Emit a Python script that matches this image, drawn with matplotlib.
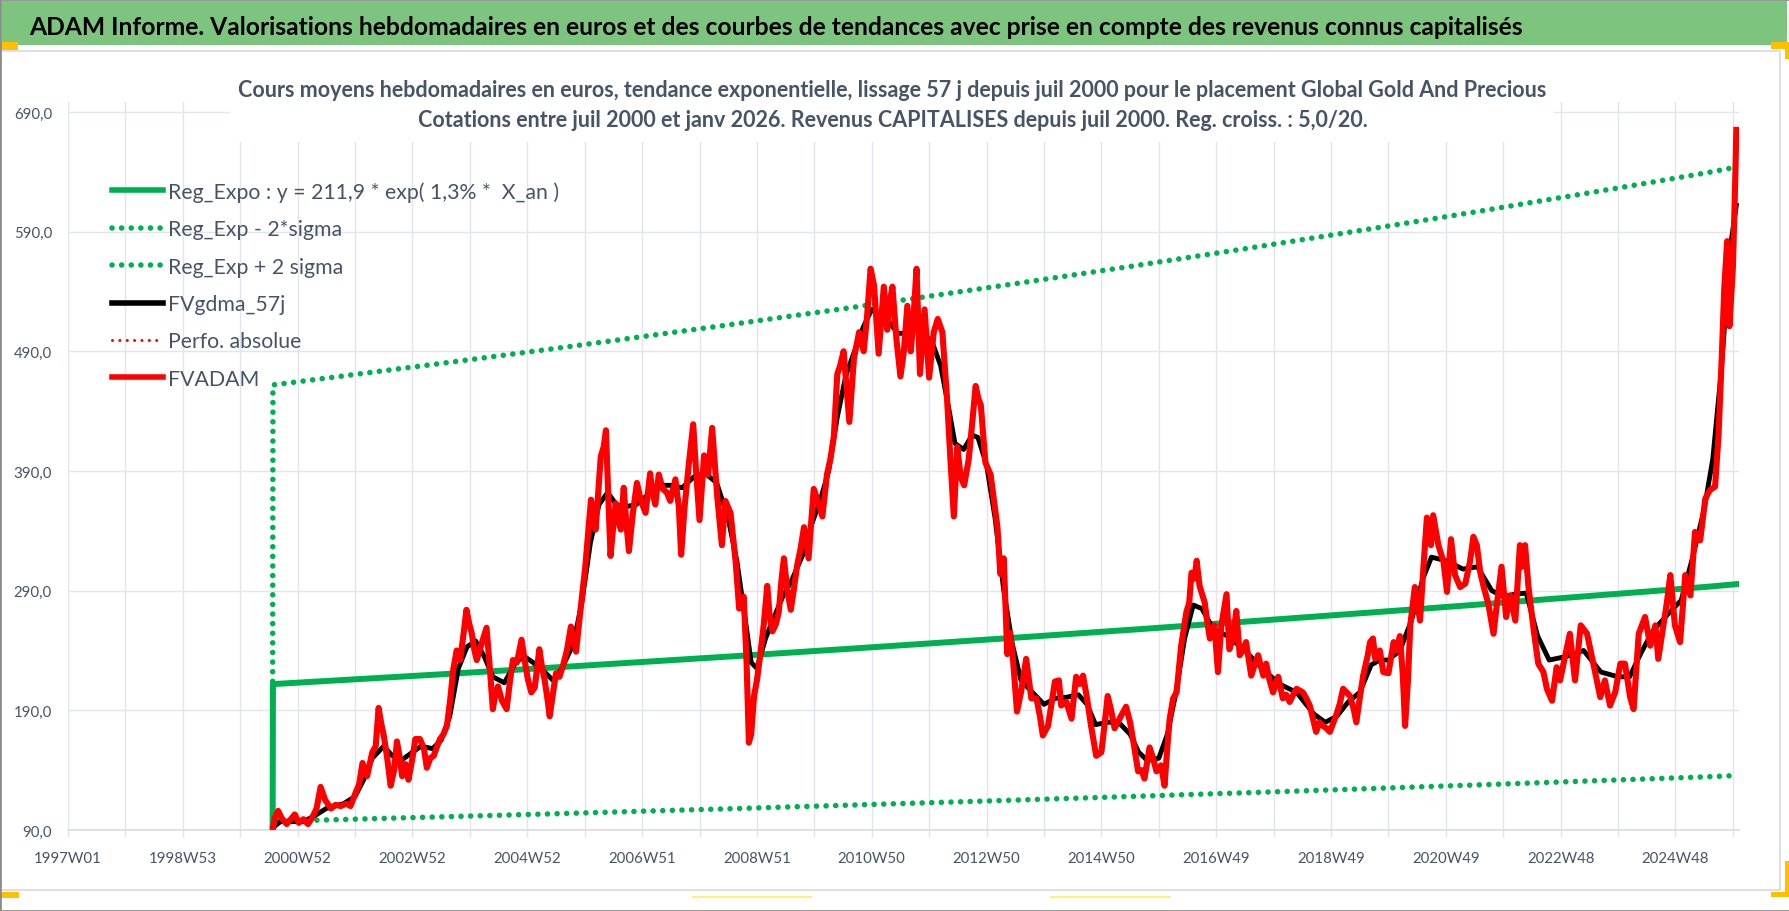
import matplotlib
matplotlib.use('Agg')
import matplotlib.pyplot as plt
from matplotlib.lines import Line2D
from matplotlib.patches import Rectangle

# police : étroite si dispo, sinon Lato
plt.rcParams['font.family'] = ['Liberation Sans Narrow', 'Lato', 'DejaVu Sans']

TITLE = ("ADAM Informe. Valorisations hebdomadaires en euros et des courbes de tendances "
         "avec prise en compte des revenus connus capitalisés")
SUB1 = ("Cours moyens hebdomadaires en euros, tendance exponentielle, lissage 57 j depuis juil 2000 "
        "pour le placement Global Gold And Precious")
SUB2 = ("Cotations entre juil 2000 et janv 2026. Revenus CAPITALISES depuis juil 2000. "
        "Reg. croiss. : 5,0/20.")

labels = ['Reg_Expo : y = 211,9 * exp( 1,3% *  X_an )', 'Reg_Exp - 2*sigma', 'Reg_Exp + 2 sigma',
          'FVgdma_57j', 'Perfo. absolue', 'FVADAM']

year_ticks = list(range(1997, 2027))
week_labels = ['1997W01', '1998W53', '2000W52', '2002W52', '2004W52', '2006W51', '2008W51',
               '2010W50', '2012W50', '2014W50', '2016W49', '2018W49', '2020W49', '2022W48', '2024W48']
y_ticks = [90, 190, 290, 390, 490, 590, 690]

# tendances (valeur 0 avant le début de la régression)
trend_t = [2000.56, 2000.57, 2001.57, 2002.57, 2003.57, 2004.57, 2005.57, 2006.57, 2007.57, 2008.57,
           2009.57, 2010.57, 2011.57, 2012.57, 2013.57, 2014.57, 2015.57, 2016.57, 2017.57, 2018.57,
           2019.57, 2020.57, 2021.57, 2022.57, 2023.57, 2024.57, 2025.57, 2026.06]
reg_v = [0, 211.9, 214.7, 217.5, 220.3, 223.2, 226.1, 229.1, 232.1, 235.1, 238.2, 241.3, 244.5, 247.7,
         250.9, 254.2, 257.5, 260.9, 264.3, 267.8, 271.3, 274.8, 278.4, 282.1, 285.8, 289.5, 293.3, 295.4]
up_v = [0, 461.9, 468.0, 474.2, 480.3, 486.6, 492.9, 499.4, 506.0, 512.5, 519.3, 526.0, 533.0, 540.0,
        547.0, 554.2, 561.4, 568.8, 576.2, 583.8, 591.4, 599.1, 606.9, 615.0, 623.0, 631.1, 639.4, 644.0]
low_v = [0, 97.2, 98.5, 99.8, 101.1, 102.4, 103.7, 105.1, 106.5, 107.8, 109.3, 110.7, 112.2, 113.6,
         115.1, 116.6, 118.1, 119.7, 121.2, 122.8, 124.4, 126.1, 127.7, 129.4, 131.1, 132.8, 134.5, 135.5]

# moyenne mobile 57 j
black_t = [2000.57, 2000.7, 2000.9, 2001.1, 2001.3, 2001.5, 2001.8, 2002.0, 2002.15, 2002.3, 2002.5,
           2002.65, 2002.8, 2003.0, 2003.15, 2003.35, 2003.5, 2003.65, 2003.8, 2003.95, 2004.1, 2004.25,
           2004.4, 2004.6, 2004.8, 2004.95, 2005.1, 2005.3, 2005.45, 2005.6, 2005.8, 2005.95, 2006.1,
           2006.25, 2006.4, 2006.55, 2006.7, 2006.9, 2007.1, 2007.3, 2007.5, 2007.7, 2007.9, 2008.1,
           2008.3, 2008.5, 2008.65, 2008.8, 2008.9, 2009.0, 2009.15, 2009.3, 2009.45, 2009.6, 2009.8,
           2009.95, 2010.1, 2010.25, 2010.4, 2010.55, 2010.7, 2010.85, 2011.0, 2011.15, 2011.3, 2011.45,
           2011.6, 2011.75, 2011.9, 2012.05, 2012.2, 2012.35, 2012.45, 2012.6, 2012.75, 2012.85, 2013.0,
           2013.15, 2013.3, 2013.45, 2013.6, 2013.8, 2014.0, 2014.2, 2014.4, 2014.6, 2014.75, 2014.9,
           2015.1, 2015.3, 2015.5, 2015.65, 2015.8, 2016.0, 2016.15, 2016.3, 2016.45, 2016.6, 2016.75,
           2016.95, 2017.2, 2017.5, 2017.8, 2018.1, 2018.4, 2018.7, 2018.9, 2019.1, 2019.3, 2019.5,
           2019.7, 2019.85, 2020.0, 2020.2, 2020.4, 2020.6, 2020.75, 2021.0, 2021.3, 2021.55, 2021.8,
           2022.0, 2022.2, 2022.4, 2022.6, 2022.8, 2023.1, 2023.4, 2023.7, 2024.0, 2024.2, 2024.4,
           2024.6, 2024.9, 2025.1, 2025.3, 2025.5, 2025.65, 2025.8, 2025.95, 2026.06]
black_v = [92, 97, 97, 97, 102, 108, 112, 118, 132, 150, 160, 152, 148, 155, 160, 158, 165, 185, 225,
           243, 248, 235, 218, 213, 230, 235, 230, 222, 215, 225, 245, 280, 330, 362, 372, 362, 360,
           362, 370, 378, 378, 376, 385, 388, 380, 350, 315, 265, 230, 225, 250, 268, 285, 298, 320,
           345, 365, 390, 435, 470, 490, 510, 525, 520, 515, 505, 505, 512, 505, 498, 478, 440, 413,
           408, 420, 418, 395, 350, 290, 245, 215, 205, 195, 200, 201, 203, 195, 178, 180, 180, 170,
           155, 148, 150, 170, 205, 250, 278, 275, 258, 252, 240, 225, 212, 205, 187, 180, 185, 197,
           205, 228, 232, 232, 240, 265, 300, 318, 315, 308, 310, 290, 285, 287, 288, 252, 232, 235,
           240, 222, 218, 218, 238, 256, 272, 282, 318, 358, 400, 475, 575, 612]

# cours hebdo FVADAM
red_t = [2000.57, 2000.60, 2000.66, 2000.72, 2000.81, 2000.88, 2000.95, 2001.02, 2001.10, 2001.18,
         2001.25, 2001.33, 2001.40, 2001.48, 2001.58, 2001.66, 2001.75, 2001.85, 2001.92, 2002.00,
         2002.07, 2002.13, 2002.21, 2002.30, 2002.36, 2002.41, 2002.46, 2002.50, 2002.56, 2002.62,
         2002.68, 2002.73, 2002.78, 2002.82, 2002.88, 2002.93, 2003.00, 2003.05, 2003.13, 2003.20,
         2003.25, 2003.31, 2003.37, 2003.43, 2003.48, 2003.54, 2003.60, 2003.66, 2003.71, 2003.77,
         2003.83, 2003.88, 2003.94, 2003.99, 2004.03, 2004.08, 2004.12, 2004.20, 2004.29, 2004.34,
         2004.40, 2004.45, 2004.49, 2004.56, 2004.64, 2004.70, 2004.75, 2004.82, 2004.90, 2004.96,
         2005.01, 2005.07, 2005.13, 2005.21, 2005.26, 2005.30, 2005.35, 2005.39, 2005.45, 2005.50,
         2005.56, 2005.62, 2005.69, 2005.76, 2005.80, 2005.85, 2005.90, 2005.96, 2006.01, 2006.05,
         2006.11, 2006.15, 2006.19, 2006.24, 2006.28, 2006.33, 2006.37, 2006.41, 2006.45, 2006.50,
         2006.54, 2006.58, 2006.63, 2006.68, 2006.72, 2006.77, 2006.84, 2006.91, 2006.98, 2007.06,
         2007.14, 2007.18, 2007.23, 2007.29, 2007.36, 2007.43, 2007.49, 2007.58, 2007.64, 2007.68,
         2007.74, 2007.81, 2007.89, 2007.94, 2008.00, 2008.08, 2008.15, 2008.22, 2008.31, 2008.39,
         2008.45, 2008.54, 2008.63, 2008.69, 2008.77, 2008.82, 2008.86, 2008.90, 2008.95, 2009.00,
         2009.06, 2009.12, 2009.18, 2009.22, 2009.27, 2009.33, 2009.38, 2009.43, 2009.47, 2009.53,
         2009.59, 2009.64, 2009.70, 2009.76, 2009.82, 2009.86, 2009.90, 2009.95, 2009.99, 2010.06,
         2010.14, 2010.22, 2010.28, 2010.34, 2010.40, 2010.45, 2010.51, 2010.56, 2010.61, 2010.69,
         2010.78, 2010.86, 2010.92, 2010.98, 2011.04, 2011.12, 2011.21, 2011.27, 2011.31, 2011.36,
         2011.43, 2011.50, 2011.56, 2011.62, 2011.68, 2011.73, 2011.78, 2011.84, 2011.92, 2012.00,
         2012.08, 2012.15, 2012.23, 2012.31, 2012.37, 2012.43, 2012.49, 2012.55, 2012.61, 2012.69,
         2012.75, 2012.81, 2012.86, 2012.90, 2012.98, 2013.07, 2013.13, 2013.19, 2013.24, 2013.30,
         2013.36, 2013.41, 2013.46, 2013.53, 2013.60, 2013.69, 2013.78, 2013.87, 2013.93, 2013.98,
         2014.07, 2014.13, 2014.19, 2014.26, 2014.30, 2014.39, 2014.48, 2014.56, 2014.62, 2014.68,
         2014.75, 2014.82, 2014.91, 2015.00, 2015.06, 2015.11, 2015.17, 2015.23, 2015.35, 2015.43,
         2015.50, 2015.55, 2015.64, 2015.70, 2015.75, 2015.84, 2015.90, 2015.96, 2016.04, 2016.10,
         2016.15, 2016.19, 2016.25, 2016.31, 2016.39, 2016.48, 2016.53, 2016.57, 2016.62, 2016.66,
         2016.71, 2016.80, 2016.85, 2016.89, 2016.97, 2017.03, 2017.09, 2017.18, 2017.23, 2017.29,
         2017.35, 2017.41, 2017.46, 2017.52, 2017.61, 2017.67, 2017.73, 2017.82, 2017.87, 2017.93,
         2017.99, 2018.08, 2018.16, 2018.22, 2018.28, 2018.34, 2018.40, 2018.51, 2018.57, 2018.63,
         2018.74, 2018.80, 2018.86, 2018.92, 2018.98, 2019.09, 2019.15, 2019.21, 2019.33, 2019.40,
         2019.44, 2019.50, 2019.56, 2019.64, 2019.68, 2019.73, 2019.77, 2019.85, 2019.91, 2020.00,
         2020.09, 2020.14, 2020.20, 2020.25, 2020.29, 2020.34, 2020.38, 2020.46, 2020.55, 2020.61,
         2020.67, 2020.74, 2020.78, 2020.87, 2020.96, 2021.02, 2021.09, 2021.16, 2021.25, 2021.34,
         2021.42, 2021.48, 2021.54, 2021.60, 2021.66, 2021.74, 2021.83, 2021.89, 2021.97, 2022.05,
         2022.12, 2022.21, 2022.29, 2022.33, 2022.38, 2022.44, 2022.53, 2022.61, 2022.70, 2022.76,
         2022.85, 2022.93, 2022.99, 2023.05, 2023.16, 2023.25, 2023.35, 2023.46, 2023.57, 2023.63,
         2023.69, 2023.77, 2023.86, 2023.95, 2024.04, 2024.12, 2024.21, 2024.27, 2024.36, 2024.47,
         2024.56, 2024.65, 2024.70, 2024.79, 2024.85, 2024.91, 2024.99, 2025.08, 2025.17, 2025.26,
         2025.34, 2025.43, 2025.52, 2025.60, 2025.69, 2025.75, 2025.81, 2025.85, 2025.90, 2025.94,
         2026.00, 2026.04, 2026.06]
red_v = [91, 100, 106, 100, 95, 99, 103, 96, 99, 95, 100, 108, 126, 115, 108, 111, 110, 112, 110, 120,
         128, 146, 135, 155, 160, 192, 178, 169, 150, 127, 140, 164, 150, 135, 145, 132, 150, 166, 166,
         158, 142, 150, 152, 160, 166, 170, 177, 200, 224, 240, 232, 250, 274, 262, 255, 240, 232, 245,
         259, 230, 191, 205, 210, 198, 191, 215, 232, 230, 249, 230, 216, 205, 209, 241, 225, 216, 200,
         185, 205, 221, 218, 227, 240, 260, 248, 239, 262, 288, 310, 332, 366, 352, 341, 375, 402, 410,
         424, 370, 319, 345, 363, 350, 341, 376, 350, 323, 355, 380, 365, 355, 388, 372, 362, 387, 375,
         372, 365, 383, 360, 320, 360, 394, 429, 390, 349, 403, 387, 426, 368, 328, 365, 355, 314, 275,
         285, 230, 163, 170, 202, 215, 237, 262, 294, 270, 256, 262, 272, 300, 317, 290, 274, 290, 311,
         325, 343, 330, 317, 350, 375, 365, 352, 387, 400, 419, 471, 478, 490, 460, 431, 484, 506, 490,
         520, 559, 545, 488, 544, 508, 530, 544, 500, 469, 490, 528, 490, 520, 559, 471, 525, 468, 506,
         517, 506, 452, 400, 352, 410, 385, 378, 400, 430, 461, 450, 445, 397, 387, 365, 343, 304, 317,
         237, 255, 233, 189, 205, 233, 200, 200, 185, 169, 177, 195, 214, 215, 194, 197, 183, 218, 212,
         219, 200, 177, 152, 155, 180, 202, 190, 175, 186, 193, 180, 166, 139, 140, 133, 159, 150, 139,
         144, 127, 160, 183, 200, 205, 244, 272, 280, 305, 300, 315, 294, 280, 262, 250, 261, 222, 261,
         287, 241, 250, 273, 236, 240, 247, 219, 228, 236, 219, 229, 215, 205, 218, 200, 203, 197, 203,
         208, 205, 200, 194, 172, 180, 177, 175, 172, 186, 195, 208, 202, 190, 180, 200, 219, 236, 247,
         250, 233, 240, 222, 221, 247, 240, 252, 220, 177, 215, 261, 293, 265, 310, 351, 328, 353, 328,
         314, 289, 333, 303, 293, 296, 314, 335, 328, 305, 293, 279, 254, 279, 310, 268, 286, 265, 328,
         310, 328, 293, 257, 229, 222, 208, 198, 226, 215, 229, 254, 215, 261, 254, 229, 215, 201, 215,
         194, 205, 229, 229, 201, 191, 254, 268, 244, 261, 233, 261, 280, 303, 261, 247, 303, 286, 339,
         332, 367, 374, 377, 420, 490, 543, 582, 511, 560, 631, 675]

W, H = 1790, 912
GREEN = '#00B050'
TXT = '#475466'
GRID = '#E2E5EB'


def fx(px):
    return px / W


def fy(py):
    return 1 - py / H


fig = plt.figure(figsize=(W / 100, H / 100), dpi=100)
renderer = fig.canvas.get_renderer()


def fit(txt, target_w, weight='normal'):
    # taille de police pour que le texte fasse target_w pixels de large
    t = fig.text(0, 0, txt, fontsize=20, fontweight=weight)
    w = t.get_window_extent(renderer=renderer).width
    t.remove()
    return 20 * target_w / w


def box(x0, y0, x1, y1, color, z=5):
    fig.add_artist(Rectangle((fx(x0), fy(y1)), (x1 - x0) / W, (y1 - y0) / H,
                             transform=fig.transFigure, facecolor=color, edgecolor='none', zorder=z))


ax = fig.add_axes([fx(68), fy(831), (1739 - 68) / W, (831 - 103) / H])

dots = dict(color=GREEN, lw=4.0, linestyle=(0, (0.01, 1.72)), dash_capstyle='round')
ax.plot(trend_t, up_v, **dots, zorder=2)
ax.plot(trend_t, low_v, **dots, zorder=2)
ax.plot(trend_t, reg_v, color=GREEN, lw=4.3, zorder=3)
ax.plot(black_t, black_v, color='black', lw=3.5, zorder=4)
ax.plot(red_t, red_v, color='#FF0000', lw=4.4, zorder=5)

ax.set_xlim(1997, 1997 + (1739 - 68) / 57.41)
ax.set_ylim(90, 698.3)
ax.set_xticks(year_ticks)
ax.set_xticklabels([week_labels[i // 2] if i % 2 == 0 else '' for i in range(len(year_ticks))])
ax.set_yticks(y_ticks)
ax.set_yticklabels([f'{v:.1f}'.replace('.', ',') for v in y_ticks])
ax.grid(True, color=GRID, lw=1.0)
ax.set_axisbelow(True)
for s in ['top', 'right', 'left']:
    ax.spines[s].set_visible(False)
ax.spines['bottom'].set_color('#D9DCE2')
ax.spines['bottom'].set_linewidth(1.2)

tick_fs = fit('1997W01', 68)
ax.tick_params(axis='x', length=5, width=1.0, color=GRID, pad=10, labelsize=tick_fs, labelcolor=TXT)
ax.tick_params(axis='y', length=0, pad=11.5, labelsize=tick_fs, labelcolor=TXT)

# légende
leg_fs = fit(labels[0], 391)
leg_px = leg_fs * 100 / 72
handles = [Line2D([], [], color=GREEN, lw=4.0),
           Line2D([], [], **dots),
           Line2D([], [], **dots),
           Line2D([], [], color='black', lw=4.0),
           Line2D([], [], color='#FF0000', lw=2.2, linestyle=(0, (0.01, 2.4)), dash_capstyle='round'),
           Line2D([], [], color='#FF0000', lw=4.0)]
leg = ax.legend(handles, labels, loc='upper left', bbox_to_anchor=(fx(112), fy(182)),
                bbox_transform=fig.transFigure, frameon=False, fontsize=leg_fs,
                handlelength=51 / leg_px, handletextpad=5 / leg_px, labelspacing=0.82,
                borderpad=0, borderaxespad=0)
for t in leg.get_texts():
    t.set_color(TXT)

# bandeau titre et cadre
box(2, 2, 1787, 46, '#7DC57F', z=1)
box(2, 51, 1781, 53, '#DCDFE5', z=1)
box(2, 890, 1781, 892, '#DCDFE5', z=1)
box(1779, 52, 1781, 892, '#DCDFE5', z=1)
fig.text(fx(29), fy(35), TITLE, fontsize=fit(TITLE, 1497, 'bold'), fontweight='bold',
         color='black', va='baseline', ha='left', zorder=6)

# sous-titre sur fond blanc
box(230, 58, 1554, 143, 'white', z=1)
sub_fs = fit(SUB1, 1313, 'bold')
fig.text(fx(892), fy(97), SUB1, fontsize=sub_fs, fontweight='bold', color=TXT,
         ha='center', va='baseline', zorder=6)
fig.text(fx(893), fy(127), SUB2, fontsize=sub_fs, fontweight='bold', color=TXT,
         ha='center', va='baseline', zorder=6)

# poignées de sélection Excel
YEL = '#FFC000'
box(0, 43, 18, 51, YEL, z=7)
box(0, 893, 19, 899, YEL, z=7)
box(1771, 43, 1790, 50, YEL, z=7)
box(1785, 43, 1790, 60, YEL, z=7)
box(1771, 893, 1790, 898, YEL, z=7)
box(1785, 862, 1790, 898, YEL, z=7)
box(692, 897, 812, 899, '#FFF176', z=7)
box(1050, 897, 1171, 899, '#FFF176', z=7)
fig.add_artist(Rectangle((0, 0), 1, 1, transform=fig.transFigure, facecolor='none',
                         edgecolor='#8C8C8C', lw=2, zorder=8))

fig.savefig('out.png', dpi=100)
